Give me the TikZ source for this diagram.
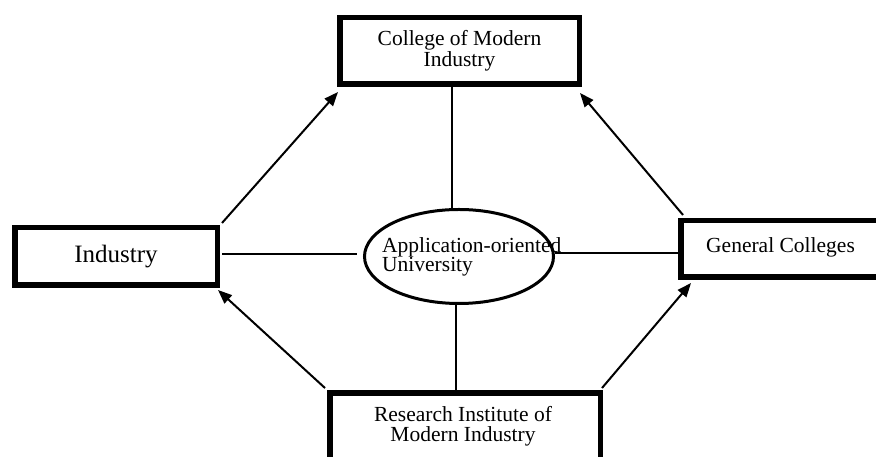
\documentclass[tikz,border=0pt]{standalone}
\usepackage{fontspec}
\setmainfont{Liberation Serif}
\usetikzlibrary{arrows.meta,shapes.geometric,calc}
\begin{document}
\begin{tikzpicture}[x=1pt,y=1pt,
  box/.style={draw,line width=5.5pt,rectangle,inner sep=0pt},
  lbl/.style={inner sep=0pt,font=\fontsize{21}{20}\selectfont},
  link/.style={line width=2pt},
  arr/.style={line width=2pt,-{Triangle[length=14pt,width=11pt]}}]
\useasboundingbox (0,0) rectangle (876,457);
\clip (0,0) rectangle (876,457);
% boxes
\node[box,minimum width=239.5pt,minimum height=66.5pt,align=center,font=\fontsize{21.5}{21}\selectfont] (cmi) at (459.5,406) {College of Modern\\Industry};
\node[box,minimum width=202.5pt,minimum height=57.5pt,font=\fontsize{25}{28}\selectfont] (ind) at (116,200.5) {Industry};
\node[box,minimum width=219.25pt,minimum height=56.5pt] (gc) at (790.4,208) {};
\node[lbl,anchor=base west,font=\fontsize{21.5}{21}\selectfont] (gct) at (706,204) {General Colleges};
\node[box,minimum width=270.5pt,minimum height=84.25pt] (rimi) at (465,22.1) {};
\node[lbl,align=center,anchor=north,font=\fontsize{21.5}{19.5}\selectfont] (rimit) at (463,50.5) {Research Institute of\\Modern Industry};
\node[draw,ellipse,line width=3pt,minimum width=189pt,minimum height=94pt,inner sep=0pt] (uni) at (459,200.5) {};
\node[lbl,align=left,anchor=north west,font=\fontsize{21.5}{18.5}\selectfont] (unit) at (382,220) {Application-oriented\\University};
% plain links
\draw[link] ([xshift=-7.5pt]cmi.south) -- ([xshift=-7pt]uni.north);
\draw[link] ([xshift=-3pt]uni.south) -- ([xshift=-9pt]rimi.north);
\draw[link] ([shift={(2pt,2.5pt)}]ind.east) -- ([shift={(-6pt,2.5pt)}]uni.west);
\draw[link] ([yshift=3.5pt]uni.east) -- ([yshift=3.5pt]uni.east -| gc.west);
% arrows
\draw[arr] ([shift={(2pt,2pt)}]ind.north east) -- ([shift={(1pt,-5pt)}]cmi.south west);
\draw[arr] ([shift={(5pt,3pt)}]gc.north west) -- ([shift={(-2pt,-6pt)}]cmi.south east);
\draw[arr] ([shift={(-2pt,2pt)}]rimi.north west) -- ([shift={(-2pt,-2pt)}]ind.south east);
\draw[arr] ([shift={(-1pt,2pt)}]rimi.north east) -- ([shift={(13pt,-3pt)}]gc.south west);
\end{tikzpicture}
\end{document}
